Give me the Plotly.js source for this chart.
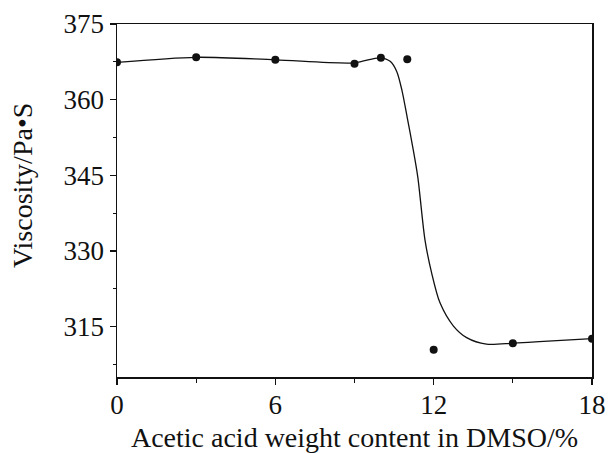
<!DOCTYPE html>
<html>
<head>
<meta charset="utf-8">
<script src="https://cdn.plot.ly/plotly-3.0.1.min.js"></script>
<style>html,body{margin:0;padding:0;background:#fff;}#chart{width:608px;height:453px;}</style>
</head>
<body>
<div id="chart"></div>
<script>
// measured points
var acidContent = [0, 3, 6, 9, 10, 11, 12, 15, 18];
var viscosity = [367.4, 368.4, 367.9, 367.1, 368.3, 368.0, 310.4, 311.7, 312.6];
// fitted curve
var curveX = [0, 3, 6, 9, 9.95, 10.35, 10.6, 10.8, 11.0, 11.2, 11.4, 11.67, 11.92, 12.24, 12.75, 13.25, 14.0, 15, 16, 18];
var curveY = [367.4, 368.4, 367.9, 367.3, 368.3, 367.6, 365.6, 361.8, 356.4, 350.8, 344.6, 332.2, 325.7, 319.7, 315.1, 312.8, 311.5, 311.7, 312.0, 312.6];
var xTicks = [0, 6, 12, 18];
var yTicks = [315, 330, 345, 360, 375];

var font = 'Liberation Serif, Times New Roman, serif';
var traces = [
  {x: curveX, y: curveY, mode: 'lines', line: {shape: 'spline', smoothing: 0.8, color: '#111', width: 1.3}, hoverinfo: 'skip'},
  {x: acidContent, y: viscosity, mode: 'markers', marker: {color: '#111', size: 8}, cliponaxis: true}
];
var layout = {
  width: 608, height: 453,
  margin: {l: 117, r: 16, t: 24, b: 76},
  showlegend: false,
  paper_bgcolor: '#fff', plot_bgcolor: '#fff',
  font: {family: font, color: '#111', size: 27},
  xaxis: {
    range: [0, 18], tickvals: xTicks, ticktext: xTicks.map(String),
    showgrid: false, zeroline: false, showline: true, linecolor: '#111', linewidth: 1.5, mirror: true,
    ticks: 'outside', ticklen: 6, tickwidth: 1.2, tickcolor: '#111',
    minor: {dtick: 3, tick0: 0, ticks: 'outside', ticklen: 4, tickcolor: '#111', showgrid: false},
    tickfont: {family: font, size: 27, color: '#111'}, ticklabelstandoff: -3,
    title: {text: 'Acetic acid weight content in DMSO/%', font: {family: font, size: 28, color: '#111'}, standoff: 12}
  },
  yaxis: {
    range: [305, 375], tickvals: yTicks, ticktext: yTicks.map(String),
    showgrid: false, zeroline: false, showline: true, linecolor: '#111', linewidth: 1.5, mirror: true,
    ticks: 'outside', ticklen: 6, tickwidth: 1.2, tickcolor: '#111',
    minor: {dtick: 7.5, tick0: 0, ticks: 'outside', ticklen: 3, tickcolor: '#111', showgrid: false},
    tickfont: {family: font, size: 27, color: '#111'}
  },
  annotations: [{
    text: 'Viscosity/Pa•S', textangle: -90, showarrow: false,
    xref: 'paper', yref: 'paper', x: 0, xanchor: 'center', xshift: -95,
    y: (377 - 186) / 353, yanchor: 'middle',
    font: {family: font, size: 28, color: '#111'}
  }]
};
Plotly.newPlot('chart', traces, layout, {displayModeBar: false, staticPlot: true});
</script>
</body>
</html>
